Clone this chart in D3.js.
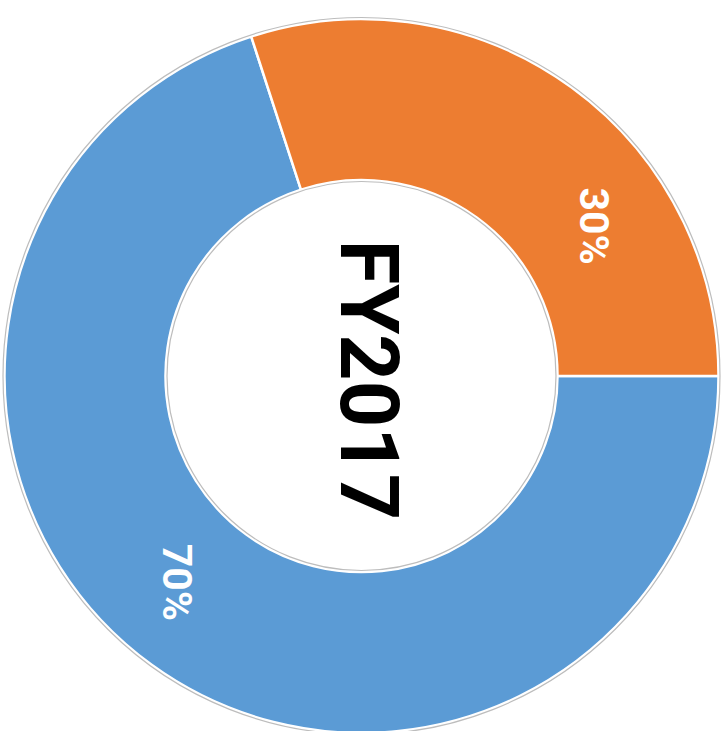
<!DOCTYPE html>
<html>
<head>
<meta charset="utf-8">
<script src="https://cdn.jsdelivr.net/npm/d3@7"></script>
<style>
  body { margin: 0; background: #fff; }
  svg { display: block; }
</style>
</head>
<body>
<div id="chart"></div>
<script>
// data
const categories = ["A", "B"];
const values = [70, 30];
const labels = ["70%", "30%"];
const colors = ["#5B9BD5", "#ED7D31"];
const centerTitle = "FY2017";

const width = 726;
const height = 731;
const cx = 361.5;
const cy = 376;
const outerR = 357;
const innerR = 196;

const svg = d3.select("#chart")
    .append("svg")
    .attr("width", width)
    .attr("height", height);

// whole donut is turned a quarter turn clockwise
const g = svg.append("g")
    .attr("transform", `translate(${cx},${cy}) rotate(90)`);

const pie = d3.pie().sort(null).value(d => d);
const arcs = pie(values);

const arc = d3.arc().innerRadius(innerR).outerRadius(outerR);

g.selectAll("path.slice")
    .data(arcs)
    .join("path")
    .attr("class", "slice")
    .attr("d", arc)
    .attr("fill", (d, i) => colors[i])
    .attr("stroke", "#fff")
    .attr("stroke-width", 2.5)
    .attr("stroke-linejoin", "round");

// thin grey rims
g.append("circle").attr("r", outerR + 1.5)
    .attr("fill", "none").attr("stroke", "#bdbdbd").attr("stroke-width", 1.2);
g.append("circle").attr("r", innerR - 1.5)
    .attr("fill", "none").attr("stroke", "#bdbdbd").attr("stroke-width", 1.2);

// labels sit in the middle of the ring
const labelShift = [0.1, 0.37]; // rad, nudges the label along the ring
const midR = (innerR + outerR) / 2;
g.selectAll("text.lbl")
    .data(arcs)
    .join("text")
    .attr("class", "lbl")
    .attr("transform", (d, i) => {
        const a = (d.startAngle + d.endAngle) / 2 + labelShift[i];
        return `translate(${midR * Math.sin(a)},${-midR * Math.cos(a)})`;
    })
    .attr("text-anchor", "middle")
    .attr("dominant-baseline", "central")
    .attr("fill", "#fff")
    .style("font-family", "Roboto, 'Liberation Sans', sans-serif")
    .style("font-weight", "bold")
    .style("font-size", "41px")
    .text((d, i) => labels[i]);

g.append("text")
    .attr("x", 4)
    .attr("y", -7)
    .attr("text-anchor", "middle")
    .attr("dominant-baseline", "central")
    .attr("fill", "#000")
    .style("font-family", "Roboto, 'Liberation Sans', sans-serif")
    .style("font-weight", "bold")
    .style("font-size", "81px")
    .text(centerTitle);
</script>
</body>
</html>
